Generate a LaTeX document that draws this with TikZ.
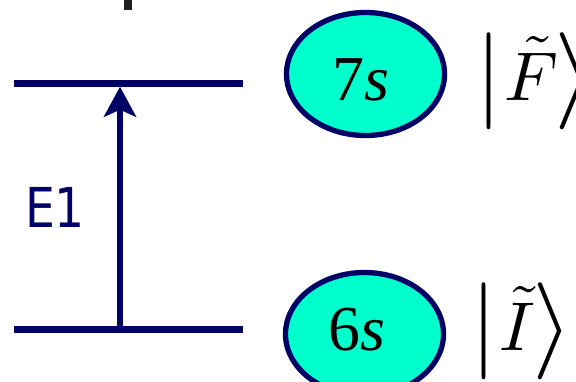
\documentclass[tikz,border=0pt]{standalone}
\usepackage{graphicx}
\usepackage{fontspec}
\setmainfont{Liberation Serif}
\newfontfamily\labelsans{DejaVu Sans}
\usetikzlibrary{shapes.geometric,arrows.meta}
\definecolor{navyline}{RGB}{0,0,102}
\definecolor{aquafill}{RGB}{0,255,204}
\tikzset{
  level/.style={draw=navyline, line width=6.8pt},
  orbital/.style={ellipse, draw=navyline, fill=aquafill, line width=5.3pt,
    minimum width=158pt, minimum height=123pt, inner sep=0pt},
  orblabel/.style={anchor=base, inner sep=0pt, font=\fontsize{64}{70}\selectfont},
  ketlabel/.style={anchor=base west, inner sep=0pt},
  transition/.style={draw=navyline, line width=6pt,
    -{Stealth[length=30pt, width=32pt, inset=7pt]}},
}
\newcommand{\ketbar}{\raisebox{-5.75pt}{\scalebox{9.7}{$|$}}}
\newcommand{\ketangle}{\raisebox{-5.75pt}{\scalebox{10.5}[9.7]{$\rangle$}}}
\begin{document}
\begin{tikzpicture}[x=1pt, y=-1pt]
\useasboundingbox (0,0) rectangle (576,381);
\clip (0,0) rectangle (576,381);
% fragment at top
\fill[black!87] (124,0) rectangle (132,10);
% levels
\coordinate (upL) at (14,83.3);
\coordinate (upR) at (243,83.3);
\coordinate (loL) at (14,329.5);
\coordinate (loR) at (243,329.5);
\draw[level] (upL) -- (upR);
\draw[level] (loL) -- (loR);
% transition
\coordinate (arrS) at (120,329.5);
\coordinate (arrE) at (120,86.7);
\draw[transition] (arrS) -- (arrE);
\node[anchor=base, inner sep=0pt, text=navyline, xscale=0.86,
  font=\labelsans\fontsize{55}{60}\selectfont] (e1) at (55,227) {E1};
% orbitals
\node[orbital] (o7) at (365.5,74) {};
\node[orbital] (o6) at (364.5,334) {};
\node[orblabel] (t7) at (360.5,100) {7\textit{s}};
\node[orblabel] (t6) at (356.5,350) {6\textit{s}};
% kets
\node[ketlabel] (kF) at (475.5,100)
  {\makebox[29pt][l]{\ketbar}\makebox[50pt][l]{\scalebox{6.9}{$\tilde{F}$}}\ketangle};
\node[ketlabel] (kI) at (470.5,350)
  {\makebox[28.5pt][l]{\ketbar}\makebox[33pt][l]{\scalebox{6.9}{$\tilde{I}$}}\ketangle};
\end{tikzpicture}
\end{document}
